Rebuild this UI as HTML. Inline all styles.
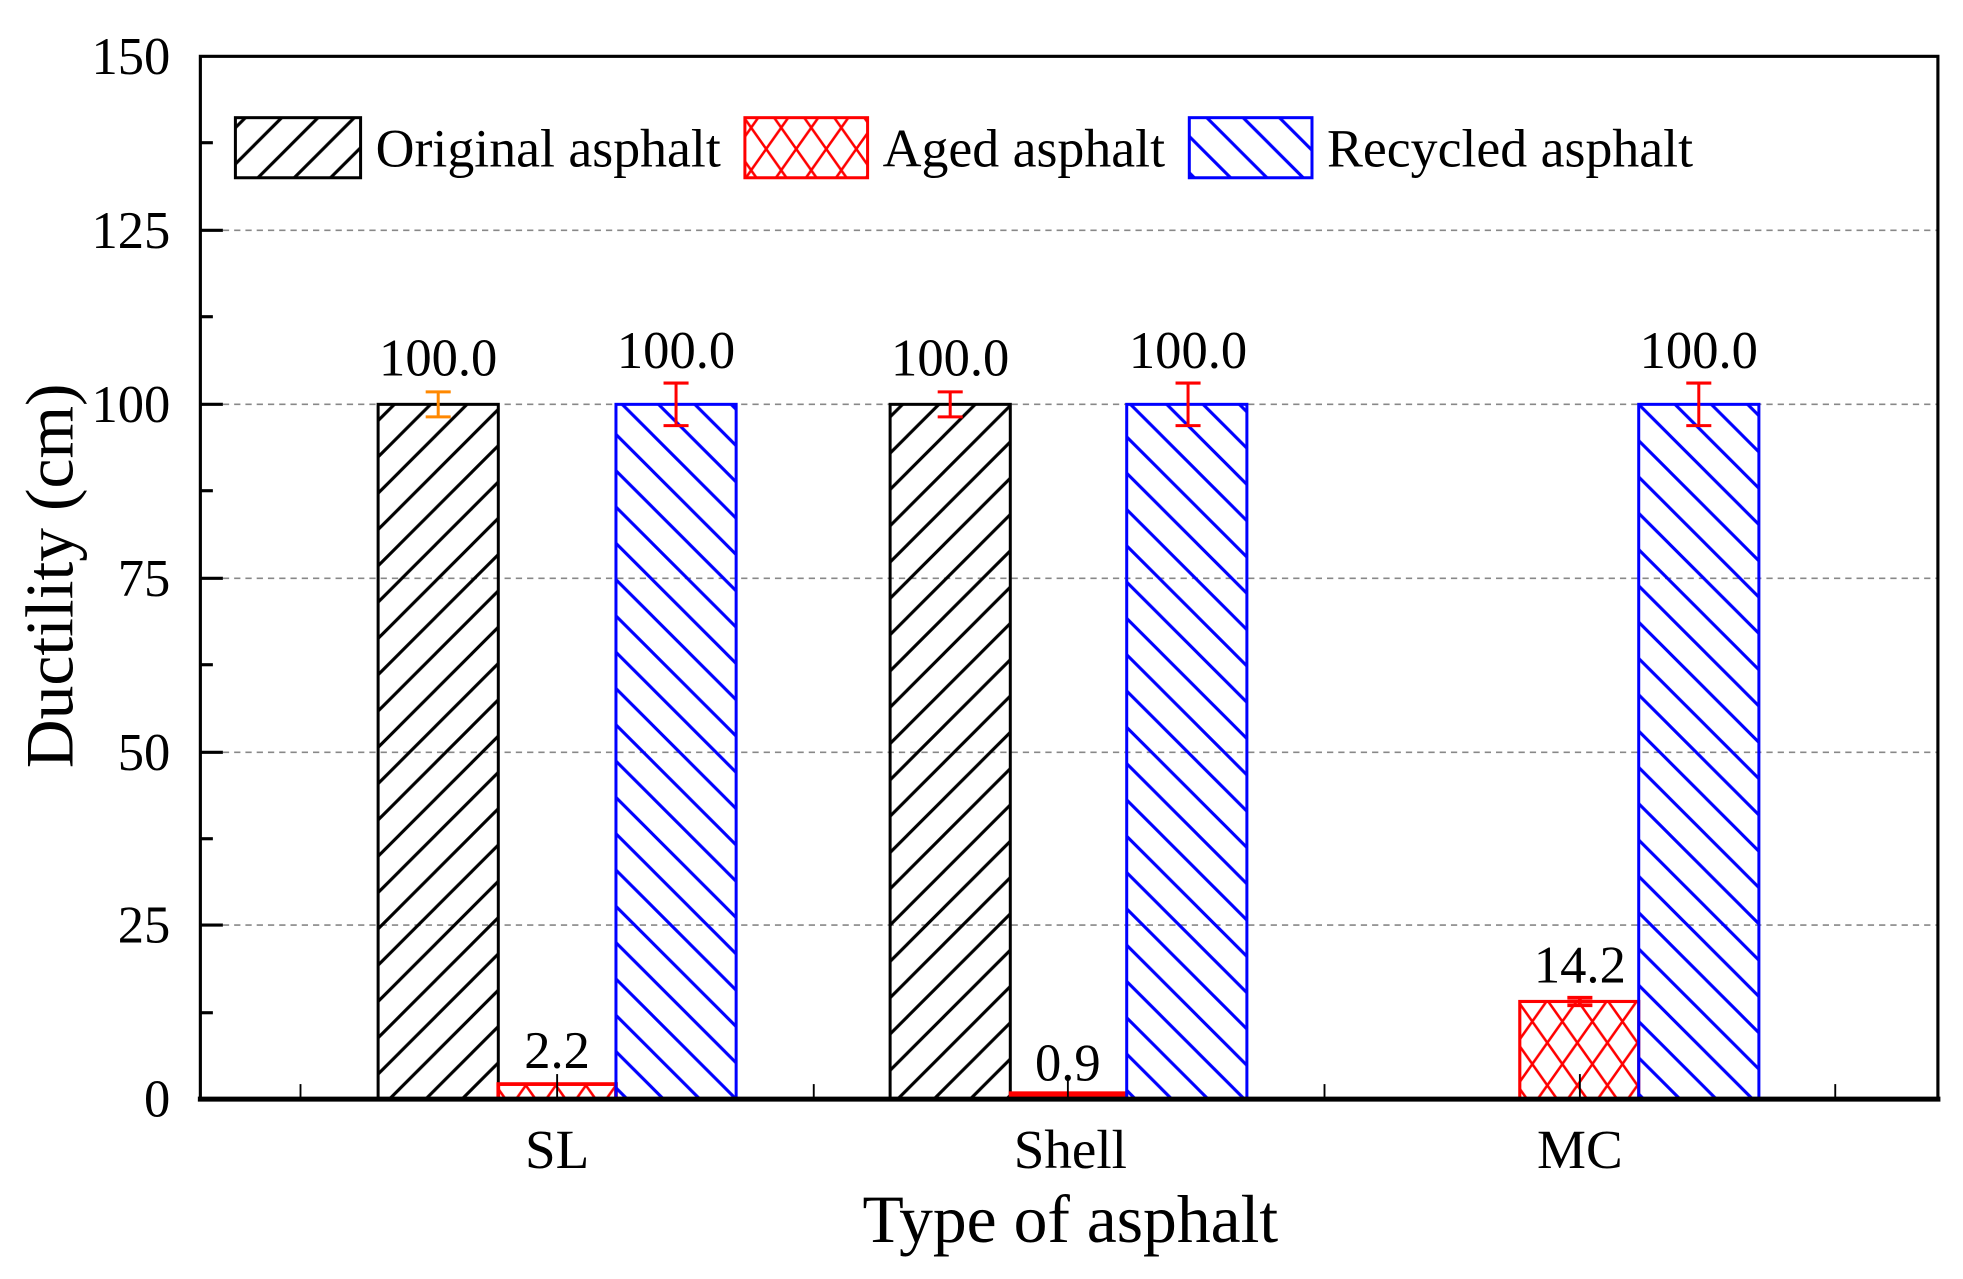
<!DOCTYPE html>
<html><head><meta charset="utf-8"><style>
html,body{margin:0;padding:0;background:#fff;width:1963px;height:1279px;overflow:hidden}
svg{display:block}
text{font-family:"Liberation Serif",serif;fill:#000}
</style></head><body>
<svg width="1963" height="1279" viewBox="0 0 1568 1021.7" xmlns="http://www.w3.org/2000/svg">
<defs>
<pattern id="fwd" patternUnits="userSpaceOnUse" width="29" height="29">
<line x1="-2" y1="31" x2="31" y2="-2" stroke="#000" stroke-width="2.5"/>
<line x1="-31" y1="31" x2="2" y2="-2" stroke="#000" stroke-width="2.5"/>
<line x1="27" y1="31" x2="60" y2="-2" stroke="#000" stroke-width="2.5"/>
</pattern>
<pattern id="bwd" patternUnits="userSpaceOnUse" width="29" height="29">
<line x1="-2" y1="-2" x2="31" y2="31" stroke="#00f" stroke-width="2.5"/>
<line x1="-31" y1="-2" x2="2" y2="31" stroke="#00f" stroke-width="2.5"/>
<line x1="27" y1="-2" x2="60" y2="31" stroke="#00f" stroke-width="2.5"/>
</pattern>
<pattern id="xh" patternUnits="userSpaceOnUse" width="24" height="34">
<path d="M0,0 L24,34 M24,0 L0,34" stroke="#f00" stroke-width="2"/>
</pattern>
</defs>
<g stroke="#888" stroke-width="1.3" stroke-dasharray="5,4">
<line x1="160" y1="184" x2="1548" y2="184"/>
<line x1="160" y1="323" x2="1548" y2="323"/>
<line x1="160" y1="462" x2="1548" y2="462"/>
<line x1="160" y1="601" x2="1548" y2="601"/>
<line x1="160" y1="739" x2="1548" y2="739"/>
</g>
<g stroke-width="2.4">
<rect x="302" y="323" width="96" height="555" fill="url(#fwd)" stroke="#000"/>
<rect x="398" y="866" width="94" height="12" fill="url(#xh)" stroke="#f00" stroke-width="3"/>
<rect x="492" y="323" width="96" height="555" fill="url(#bwd)" stroke="#00f"/>
<rect x="711" y="323" width="96" height="555" fill="url(#fwd)" stroke="#000"/>
<rect x="807" y="873" width="93" height="5" fill="#f00" stroke="#f00"/>
<rect x="900" y="323" width="96" height="555" fill="url(#bwd)" stroke="#00f"/>
<rect x="1214" y="800" width="95" height="78" fill="url(#xh)" stroke="#f00" stroke-width="2.5"/>
<rect x="1309" y="323" width="96" height="555" fill="url(#bwd)" stroke="#00f"/>
</g>
<g stroke-width="2.4" fill="none">
<path d="M350,313 V333 M340,313 H360 M340,333 H360" stroke="#f80"/>
<path d="M540,306 V340 M530,306 H550 M530,340 H550" stroke="#f00"/>
<path d="M759,313 V333 M749,313 H769 M749,333 H769" stroke="#f00"/>
<path d="M949,306 V340 M939,306 H959 M939,340 H959" stroke="#f00"/>
<path d="M1357,306 V340 M1347,306 H1367 M1347,340 H1367" stroke="#f00"/>
<path d="M1262,797 V803 M1252,797 H1272 M1252,803 H1272" stroke="#f00" stroke-width="3"/>
<path d="M445,858 V878" stroke="#000" stroke-width="1.5"/>
<path d="M853,860 V878" stroke="#000" stroke-width="1.5"/>
<path d="M1262,858 V878" stroke="#000" stroke-width="1.5"/>
</g>
<g font-size="42" text-anchor="middle">
<text x="350" y="300">100.0</text>
<text x="540" y="294">100.0</text>
<text x="759" y="300">100.0</text>
<text x="949" y="294">100.0</text>
<text x="1357" y="294">100.0</text>
<text x="445" y="853">2.2</text>
<text x="853" y="863">0.9</text>
<text x="1262" y="785">14.2</text>
</g>
<rect x="160" y="45" width="1388" height="833" fill="none" stroke="#000" stroke-width="2.5"/>
<line x1="158" y1="878" x2="1550" y2="878" stroke="#000" stroke-width="4"/>
<g stroke="#000" stroke-width="2.5">
<line x1="160" y1="184" x2="178" y2="184"/><line x1="160" y1="323" x2="178" y2="323"/>
<line x1="160" y1="462" x2="178" y2="462"/><line x1="160" y1="601" x2="178" y2="601"/>
<line x1="160" y1="739" x2="178" y2="739"/>
<line x1="160" y1="114" x2="170" y2="114"/><line x1="160" y1="253" x2="170" y2="253"/>
<line x1="160" y1="392" x2="170" y2="392"/><line x1="160" y1="531" x2="170" y2="531"/>
<line x1="160" y1="670" x2="170" y2="670"/><line x1="160" y1="809" x2="170" y2="809"/>
<line x1="240" y1="878" x2="240" y2="866" stroke-width="1.5"/><line x1="650" y1="878" x2="650" y2="866" stroke-width="1.5"/>
<line x1="1058" y1="878" x2="1058" y2="866" stroke-width="1.5"/><line x1="1466" y1="878" x2="1466" y2="866" stroke-width="1.5"/>
</g>
<g font-size="42" text-anchor="end">
<text x="136" y="59">150</text><text x="136" y="198">125</text><text x="136" y="337">100</text>
<text x="136" y="476">75</text><text x="136" y="615">50</text><text x="136" y="753">25</text><text x="136" y="892">0</text>
</g>
<g font-size="44" text-anchor="middle">
<text x="445" y="933">SL</text><text x="855" y="933">Shell</text><text x="1262" y="933">MC</text>
</g>
<text x="855" y="992" font-size="54" text-anchor="middle">Type of asphalt</text>
<text transform="translate(58,460) rotate(-90)" font-size="54" text-anchor="middle">Ductility (cm)</text>
<rect x="188" y="94" width="100" height="48" fill="url(#fwd)" stroke="#000" stroke-width="2.4"/>
<text x="300" y="133" font-size="43">Original asphalt</text>
<rect x="595" y="94" width="98" height="48" fill="url(#xh)" stroke="#f00" stroke-width="2.4"/>
<text x="705" y="133" font-size="43">Aged asphalt</text>
<rect x="950" y="94" width="98" height="48" fill="url(#bwd)" stroke="#00f" stroke-width="2.4"/>
<text x="1060" y="133" font-size="43">Recycled asphalt</text>
</svg>
</body></html>
